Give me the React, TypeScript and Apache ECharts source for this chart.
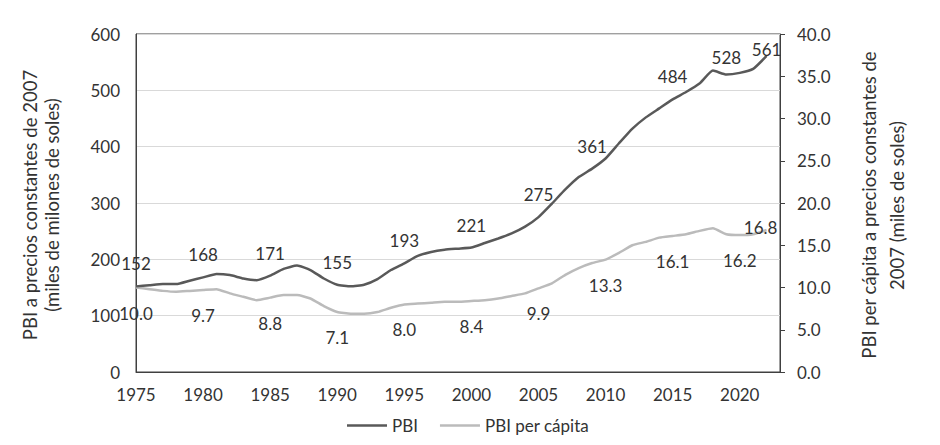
import { useEffect, useRef } from "react";
import * as echarts from "echarts";

const years = [
  1975, 1976, 1977, 1978, 1979, 1980, 1981, 1982, 1983, 1984, 1985, 1986,
  1987, 1988, 1989, 1990, 1991, 1992, 1993, 1994, 1995, 1996, 1997, 1998,
  1999, 2000, 2001, 2002, 2003, 2004, 2005, 2006, 2007, 2008, 2009, 2010,
  2011, 2012, 2013, 2014, 2015, 2016, 2017, 2018, 2019, 2020, 2021, 2022,
];

const pbi = [
  152, 154, 156, 156, 162, 168, 174, 172, 166, 163, 171, 183,
  189, 181, 166, 155, 152, 155, 165, 181, 193, 206, 213, 217,
  219, 221, 229, 237, 246, 258, 275, 299, 324, 346, 361, 379,
  406, 432, 452, 468, 484, 497, 512, 535, 528, 531, 538, 561,
];

const pbiPerCapita = [
  10.0, 9.8, 9.6, 9.5, 9.6, 9.7, 9.8, 9.3, 8.9, 8.5, 8.8, 9.1,
  9.1, 8.7, 7.8, 7.1, 6.9, 6.9, 7.1, 7.6, 8.0, 8.1, 8.2, 8.3,
  8.3, 8.4, 8.5, 8.7, 9.0, 9.3, 9.9, 10.5, 11.5, 12.3, 12.9, 13.3,
  14.1, 15.0, 15.4, 15.9, 16.1, 16.3, 16.7, 17.0, 16.3, 16.2, 16.3, 16.8,
];

const pbiLabelYears = [1975, 1980, 1985, 1990, 1995, 2000, 2005, 2009, 2015, 2019, 2022];
const perCapitaLabelYears = [1975, 1980, 1985, 1990, 1995, 2000, 2005, 2010, 2015, 2020, 2022];

const seriesNames = ["PBI", "PBI per cápita"];
const leftTitle = ["PBI a precios constantes de 2007", "(miles de milones de soles)"];
const rightTitle = ["PBI per cápita a precios constantes de", "2007 (miles de soles)"];

const FONT = "Lato";
const TEXT = "#333333";
const FS = 17;
const TITLE_FS = 18.5;

const pbiLabelTweaks: Record<number, any> = {
  2019: { distance: 9 },
  2022: { position: "inside", offset: [0, -6] },
};
const pcLabelTweaks: Record<number, any> = {
  2022: { position: "inside", offset: [-6, -3] },
};

function buildData(values: number[], labelYears: number[], base: any, tweaks: Record<number, any>) {
  return years.map((yr, i) => {
    const item: any = { value: [yr, values[i]] };
    if (labelYears.includes(yr)) {
      item.label = { show: true, ...base, ...(tweaks[yr] || {}) };
    }
    return item;
  });
}

function titleText(x: number, y: number, text: string) {
  return {
    type: "text",
    x,
    y,
    rotation: Math.PI / 2,
    silent: true,
    style: {
      text,
      fill: TEXT,
      font: `${TITLE_FS}px ${FONT}`,
      align: "center",
      verticalAlign: "middle",
    },
  };
}

export default function App() {
  const ref = useRef<HTMLDivElement>(null);

  useEffect(() => {
    if (!ref.current) return;
    const chart = echarts.init(ref.current, undefined, { renderer: "svg" });
    const labelCommon = { fontFamily: FONT, fontSize: FS, color: TEXT };

    chart.setOption({
      animation: false,
      backgroundColor: "#ffffff",
      textStyle: { fontFamily: FONT },
      grid: {
        left: 136,
        right: 160,
        top: 34,
        bottom: 73,
        show: true,
        borderColor: "#404040",
        borderWidth: 1,
        backgroundColor: "transparent",
      },
      legend: {
        data: seriesNames,
        left: 342,
        top: 412,
        icon: "rect",
        itemWidth: 40,
        itemHeight: 2.5,
        itemGap: 22,
        textStyle: { fontFamily: FONT, fontSize: FS, color: TEXT },
      },
      xAxis: {
        type: "value",
        min: 1975,
        max: 2023,
        interval: 5,
        axisLine: { show: true, lineStyle: { color: "#404040", width: 1 } },
        axisTick: { show: false },
        splitLine: { show: false },
        axisLabel: {
          fontFamily: FONT,
          fontSize: FS,
          color: TEXT,
          margin: 14,
          showMaxLabel: false,
          formatter: (v: number) => (v % 5 === 0 && v <= 2020 ? String(v) : ""),
        },
      },
      yAxis: [
        {
          type: "value",
          min: 0,
          max: 600,
          interval: 100,
          axisLine: { show: true, lineStyle: { color: "#404040", width: 1 } },
          axisTick: { show: false },
          splitLine: { show: true, lineStyle: { color: "#D9D9D9", width: 1 } },
          axisLabel: { fontFamily: FONT, fontSize: FS, color: TEXT, margin: 16 },
        },
        {
          type: "value",
          position: "right",
          min: 0,
          max: 40,
          interval: 5,
          axisLine: { show: true, lineStyle: { color: "#404040", width: 1 } },
          axisTick: { show: true, inside: false, length: 5, lineStyle: { color: "#404040" } },
          splitLine: { show: false },
          axisLabel: {
            fontFamily: FONT,
            fontSize: FS,
            color: TEXT,
            margin: 17,
            formatter: (v: number) => v.toFixed(1),
          },
        },
      ],
      series: [
        {
          name: seriesNames[0],
          type: "line",
          yAxisIndex: 0,
          data: buildData(pbi, pbiLabelYears, { position: "top", distance: 14 }, pbiLabelTweaks),
          symbol: "circle",
          symbolSize: 0,
          showSymbol: true,
          smooth: 0.15,
          clip: false,
          lineStyle: { color: "#595959", width: 2.5 },
          itemStyle: { color: "#595959" },
          label: {
            show: false,
            ...labelCommon,
            formatter: (p: any) => String(p.value[1]),
          },
          emphasis: { disabled: true },
          z: 3,
        },
        {
          name: seriesNames[1],
          type: "line",
          yAxisIndex: 1,
          data: buildData(pbiPerCapita, perCapitaLabelYears, { position: "bottom", distance: 17 }, pcLabelTweaks),
          symbol: "circle",
          symbolSize: 0,
          showSymbol: true,
          smooth: 0.15,
          clip: false,
          lineStyle: { color: "#BBBBBB", width: 2.5 },
          itemStyle: { color: "#BBBBBB" },
          label: {
            show: false,
            ...labelCommon,
            formatter: (p: any) => p.value[1].toFixed(1),
          },
          emphasis: { disabled: true },
          z: 2,
        },
      ],
      graphic: [
        titleText(29.5, 205, leftTitle[0]),
        titleText(52, 205, leftTitle[1]),
        titleText(869, 205, rightTitle[0]),
        titleText(897, 205.5, rightTitle[1]),
      ],
    });

    return () => chart.dispose();
  }, []);

  return (
    <div
      ref={ref}
      style={{ position: "fixed", left: 0, top: 0, width: 940, height: 445, background: "#fff" }}
    />
  );
}
